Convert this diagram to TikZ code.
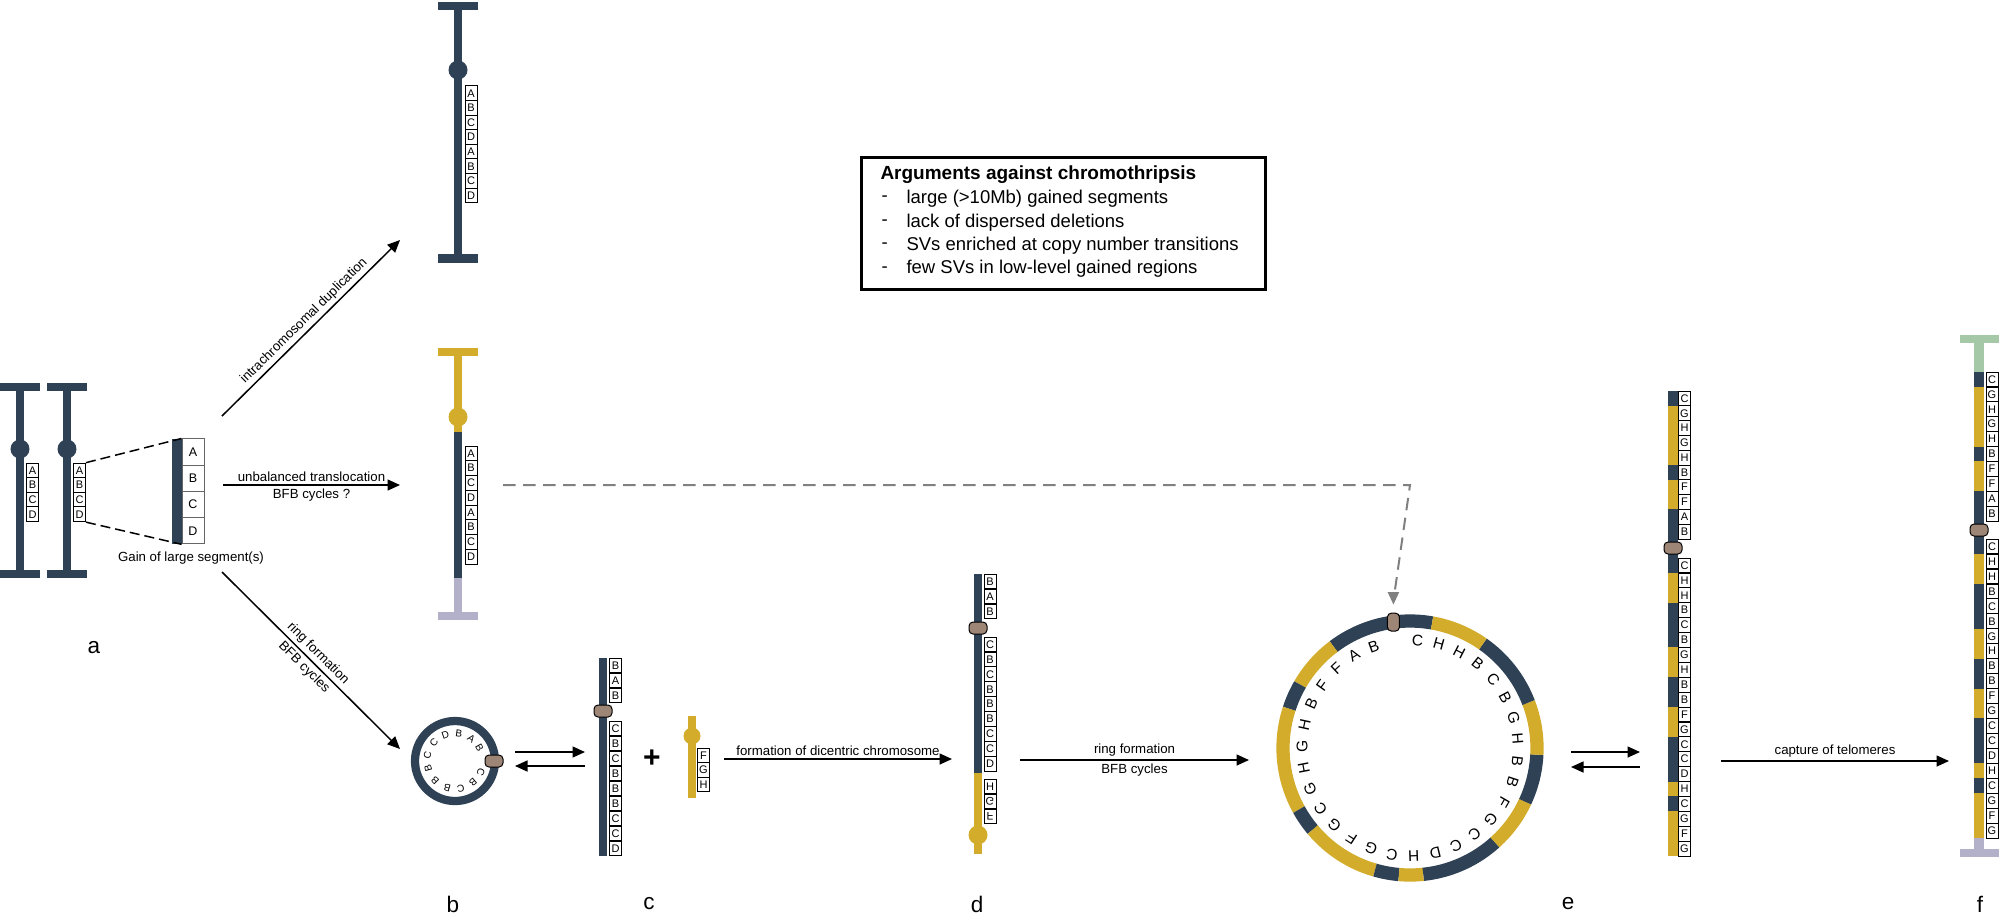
\documentclass[tikz,border=0pt]{standalone}
\usepackage{fontspec}
\setmainfont{Liberation Sans}
\usetikzlibrary{arrows.meta,calc}
\definecolor{dk}{HTML}{2E4155}
\definecolor{yl}{HTML}{D3AC2B}
\definecolor{pu}{HTML}{B3B0C9}
\definecolor{gr}{HTML}{A5C8A6}
\definecolor{br}{HTML}{9E8677}
\tikzset{
  gb/.style={draw=black,fill=white,line width=0.35pt,inner sep=0pt,minimum width=4.8pt,minimum height=5.92pt,font=\fontsize{4.4}{4.4}\selectfont},
  bigb/.style={draw=black!60,fill=white,line width=0.35pt,inner sep=0pt,minimum width=8.8pt,minimum height=10.5pt,font=\fontsize{5}{5}\selectfont},
  cen/.style={draw=black,fill=br,line width=0.4pt,rounded corners=1.6pt,inner sep=0pt,minimum width=7.2pt,minimum height=4.8pt},
  arr/.style={line width=0.6pt,-{Triangle[length=5pt,width=4.4pt]}},
  lab/.style={font=\fontsize{5.3}{6}\selectfont,inner sep=1.2pt},
  panel/.style={font=\fontsize{9}{9}\selectfont},
  rl/.style={font=\fontsize{4}{4}\selectfont,inner sep=0pt},
  re/.style={font=\fontsize{6.2}{6.2}\selectfont,inner sep=0pt},
}
\begin{document}
\begin{tikzpicture}[x=0.4pt,y=-0.4pt]
\useasboundingbox (0,0) rectangle (2000,916);
% ---------- a ----------
\foreach \cx/\nm in {20/aa,67/ab}{
  \fill[dk] (\cx-4,383) rectangle (\cx+4,578);
  \fill[dk] (\cx-20,383) rectangle (\cx+20,391);
  \fill[dk] (\cx-20,570) rectangle (\cx+20,578);
  \fill[dk] (\cx,449) circle[radius=3.8pt];
  \foreach \l [count=\i from 0] in {A,B,C,D}
    \node[gb] (\nm\i) at (\cx+12.5,470.5+14.6*\i) {\l};
}
\fill[dk] (172,439) rectangle (182,544);
\foreach \l [count=\i from 0] in {A,B,C,D}
  \node[bigb] (s\i) at (193,452+26.25*\i) {\l};
\draw[dashed,line width=0.6pt,dash pattern=on 4pt off 2pt] (ab0.north east) -- (s0.north west);
\draw[dashed,line width=0.6pt,dash pattern=on 4pt off 2pt] (ab3.south east) -- (s3.south west);
\node[lab] (gain) at (191,558) {Gain of large segment(s)};
\node[panel] at (94,648) {a};
% arrows from a
\coordinate (o1) at (222,416); \coordinate (t1) at (400,240);
\coordinate (o2) at (223,485); \coordinate (t2) at (400,485);
\coordinate (o3) at (222,572); \coordinate (t3) at (400,749);
\draw[arr] (o1) -- node[lab,sloped,above] {intrachromosomal duplication} (t1);
\draw[arr] (o2) -- node[lab,above] {unbalanced translocation} node[lab,below] {BFB cycles ?} (t2);
\draw[arr] (o3) -- node[lab,sloped,above] {ring formation} node[lab,sloped,below] {BFB cycles} (t3);
% ---------- duplication chromosome ----------
\fill[dk] (454,6) rectangle (462,258);
\fill[dk] (438,2) rectangle (478,10);
\fill[dk] (438,254) rectangle (478,263);
\fill[dk] (458,70) circle[radius=3.8pt];
\foreach \l [count=\i from 0] in {A,B,C,D,A,B,C,D}
  \node[gb] at (471,93.3+14.6*\i) {\l};
% ---------- translocation chromosome ----------
\fill[yl] (454,352) rectangle (462,432);
\fill[yl] (438,348) rectangle (478,356);
\fill[yl] (458,417) circle[radius=3.8pt];
\fill[dk] (454,432) rectangle (462,578);
\fill[pu] (454,578) rectangle (462,616);
\fill[pu] (438,612) rectangle (478,620);
\foreach \l [count=\i from 0] in {A,B,C,D,A,B,C,D}
  \node[gb] (tr\i) at (471,453.4+14.75*\i) {\l};
% ---------- box ----------
\draw[line width=1.2pt] (861,157) rectangle (1265,289);
\node[anchor=west,font=\fontsize{7.6}{8}\selectfont\bfseries,inner sep=0] at (880,175) {Arguments against chromothripsis};
\foreach \t [count=\i from 0] in {large (>10Mb) gained segments,lack of dispersed deletions,SVs enriched at copy number transitions,few SVs in low-level gained regions}{
  \node[anchor=west,font=\fontsize{7.4}{8}\selectfont,inner sep=0] at (881,199+23.4*\i) {-};
  \node[anchor=west,font=\fontsize{7.4}{8}\selectfont,inner sep=0] at (906,199+23.4*\i) {\t};
}
% ---------- ring b ----------
\begin{scope}[shift={(455,761)},x=0.4pt,y=0.4pt]
  \draw[dk,line width=3.3pt] (0,0) circle[radius=40];
  \foreach \l/\a in {B/225,B/196,C/168,C/139,D/110,B/82,A/54,B/29,C/-23,B/-50,C/-78,B/-106}
    \node[rl,rotate=\a-90] at (\a:28) {\l};
  \node[cen] (cb) at (0:39) {};
\end{scope}
\node[panel] at (453,904) {b};
\coordinate (b1) at (515,752); \coordinate (b2) at (585,752);
\coordinate (b3) at (585,766); \coordinate (b4) at (515,766);
\draw[arr] (b1) -- (b2);
\draw[arr] (b3) -- (b4);
% ---------- c ----------
\fill[dk] (599,658) rectangle (607,856);
\foreach \l [count=\i from 0] in {B,A,B}
  \node[gb] at (615.5,665.5+15*\i) {\l};
\node[cen] at (603,711) {};
\foreach \l [count=\i from 0] in {C,B,C,B,B,B,C,C,D}
  \node[gb] at (615.5,728.5+15*\i) {\l};
\node[panel] at (649,904) {c};
\node[font=\fontsize{12}{12}\selectfont\bfseries] at (652,759) {+};
\fill[yl] (688,716) rectangle (696,798);
\fill[yl] (692,736) circle[radius=3.4pt];
\foreach \l [count=\i from 0] in {F,G,H}
  \node[gb] (fg\i) at (703.5,755.5+14.5*\i) {\l};
\coordinate (c1) at (724,759); \coordinate (c2) at (952,759);
\draw[arr] (c1) -- node[lab,above] {formation of dicentric chromosome} (c2);
% ---------- d ----------
\fill[dk] (974,574) rectangle (982,773);
\fill[yl] (974,773) rectangle (982,854);
\fill[yl] (978,835) circle[radius=3.8pt];
\foreach \l [count=\i from 0] in {B,A,B}
  \node[gb] at (990,581.5+15*\i) {\l};
\node[cen] at (978,628) {};
\foreach \l [count=\i from 0] in {C,B,C,B,B,B,C,C,D}
  \node[gb] at (990,644.5+14.9*\i) {\l};
\node[gb] at (990,786.5) {H};
\node[gb] at (990,801.5) {\scalebox{1}[-1]{G}};
\node[gb] at (990,816.5) {\scalebox{1}[-1]{F}};
\node[panel] at (977,904) {d};
\coordinate (d1) at (1020,760); \coordinate (d2) at (1249,760);
\draw[arr] (d1) -- node[lab,above] {ring formation} node[lab,below] {BFB cycles} (d2);
% ---------- ring e ----------
\begin{scope}[shift={(1410,748)},x=0.4pt,y=0.4pt]
  \foreach \s/\e/\c in {80/127/dk,127/150/yl,150/162/dk,162/209/yl,209/220/dk,220/254/yl,254/265/dk,265/276/yl,276/312/dk,312/335/yl,335/357/dk,357/381/yl,381/415/dk,415/440/yl}
    \draw[\c,line width=5.3pt] (\s:127) arc[start angle=\s,end angle=\e,radius=127];
  \foreach \l [count=\i from 0] in {C,H,H,B,C,B,G,H,B,B,F,G,C,C,D,H,C,G,F,G,C,G,H,G,H,B,F,F,A,B}
    \node[re,rotate=86-11.6*\i-90] at ({86-11.6*\i}:108) {\l};
  \node[cen,rotate=90] (ce) at (97.5:127) {};
\end{scope}
\node[panel] at (1568,904) {e};
% dashed connector
\coordinate (tk) at (503,485); \coordinate (bend) at (1410,485);
\draw[gray,line width=0.8pt,dash pattern=on 5pt off 3pt] (tk) -- (bend) -- ($(ce.east)+(0,-12)$);
\draw[gray,line width=0.8pt,-{Triangle[length=5pt,width=4.4pt]}] ($(ce.east)+(0,-18)$) -- ($(ce.east)+(0,-8)$);
\coordinate (e1) at (1571,752); \coordinate (e2) at (1640,752);
\coordinate (e3) at (1640,767); \coordinate (e4) at (1571,767);
\draw[arr] (e1) -- (e2);
\draw[arr] (e3) -- (e4);
% ---------- chromosome e ----------
\foreach \l/\c [count=\i from 0] in {C/dk,G/yl,H/yl,G/yl,H/yl,B/dk,F/yl,F/yl,A/dk,B/dk}{
  \fill[\c] (1668,391+14.8*\i) rectangle (1678,391+14.8*\i+14.9);
  \node[gb] at (1684.5,398.4+14.8*\i) {\l};
}
\fill[dk] (1668,539) rectangle (1678,558);
\node[cen] at (1673,548) {};
\foreach \l/\c [count=\i from 0] in {C/dk,H/yl,H/yl,B/dk,C/dk,B/dk,G/yl,H/yl,B/dk,B/dk,F/yl,G/yl,C/dk,C/dk,D/dk,H/yl,C/dk,G/yl,F/yl,G/yl}{
  \fill[\c] (1668,558+14.9*\i) rectangle (1678,558+14.9*\i+15);
  \node[gb] at (1684.5,565.45+14.9*\i) {\l};
}
\coordinate (f1) at (1721,761); \coordinate (f2) at (1949,761);
\draw[arr] (f1) -- node[lab,above] {capture of telomeres} (f2);
% ---------- chromosome f ----------
\fill[gr] (1960,335) rectangle (1999,343);
\fill[gr] (1974,343) rectangle (1984,372);
\foreach \l/\c [count=\i from 0] in {C/dk,G/yl,H/yl,G/yl,H/yl,B/dk,F/yl,F/yl,A/dk,B/dk}{
  \fill[\c] (1974,372+14.9*\i) rectangle (1984,372+14.9*\i+15);
  \node[gb] at (1992,379.45+14.9*\i) {\l};
}
\fill[dk] (1974,521) rectangle (1984,539);
\node[cen] at (1979,530) {};
\foreach \l/\c [count=\i from 0] in {C/dk,H/yl,H/yl,B/dk,C/dk,B/dk,G/yl,H/yl,B/dk,B/dk,F/yl,G/yl,C/dk,C/dk,D/dk,H/yl,C/dk,G/yl,F/yl,G/yl}{
  \fill[\c] (1974,539+14.95*\i) rectangle (1984,539+14.95*\i+15);
  \node[gb] at (1992,546.5+14.95*\i) {\l};
}
\fill[pu] (1974,838) rectangle (1984,849);
\fill[pu] (1960,849) rectangle (1999,857);
\node[panel] at (1980,904) {f};
\end{tikzpicture}
\end{document}
